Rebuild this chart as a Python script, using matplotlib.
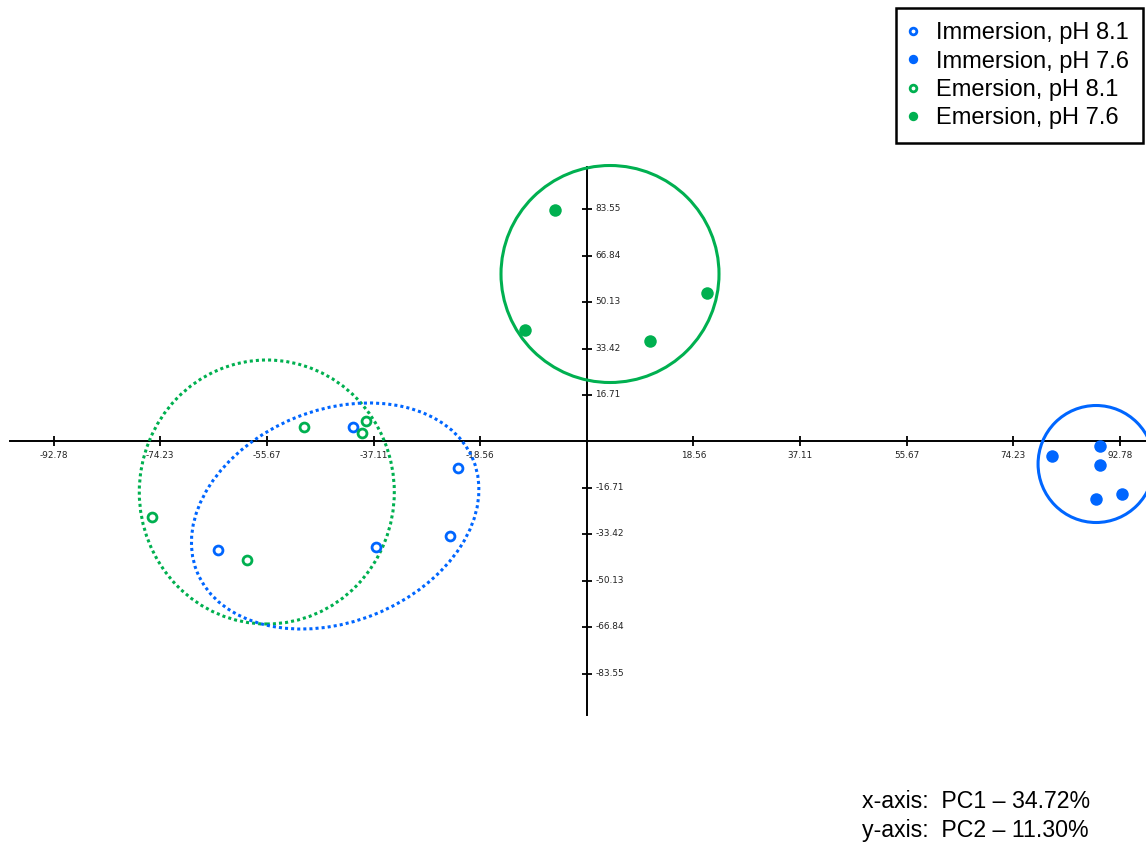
import matplotlib
matplotlib.use("Agg")
import matplotlib.pyplot as plt
from matplotlib.patches import Ellipse
from matplotlib.transforms import ScaledTranslation

plt.rcParams['font.family'] = ['Liberation Sans', 'DejaVu Sans']

BLUE = '#0066ff'
GREEN = '#00b050'

# PCA scores per treatment group (PC1, PC2)
imm81_x = [-40.7, -22.4, -23.8, -36.7, -64.1]
imm81_y = [5.1, -9.6, -33.9, -38.1, -39.0]
imm76_x = [81.0, 89.3, 89.3, 88.6, 93.2]
imm76_y = [-5.1, -1.6, -8.6, -20.7, -19.0]
em81_x = [-49.2, -38.4, -39.1, -75.6, -59.2]
em81_y = [5.3, 7.5, 3.1, -27.1, -42.5]
em76_x = [-5.6, -10.8, 11.0, 21.0]
em76_y = [83.2, 40.2, 36.3, 53.5]

labels = ['Immersion, pH 8.1', 'Immersion, pH 7.6',
          'Emersion, pH 8.1', 'Emersion, pH 7.6']

x_ticks = [-92.78, -74.23, -55.67, -37.11, -18.56,
           18.56, 37.11, 55.67, 74.23, 92.78]
y_ticks = [83.55, 66.84, 50.13, 33.42, 16.71,
           -16.71, -33.42, -50.13, -66.84, -83.55]

fig = plt.figure(figsize=(11.46, 8.42), dpi=100)
ax = fig.add_axes([0, 0, 1, 1])
ax.set_xlim(-102.12, 97.32)
ax.set_ylim(-144.12, 158.87)
ax.axis('off')

# cross-shaped axes through the origin
ax.plot([-100.4, 100.4], [0, 0], color='black', lw=1.4, zorder=2)
ax.plot([0, 0], [-98.4, 98.8], color='black', lw=1.4, zorder=2)
ax.plot(x_ticks, [0] * len(x_ticks), ls='none', marker='|', ms=6.5,
        mew=1.3, color='black', zorder=2)
ax.plot([0] * len(y_ticks), y_ticks, ls='none', marker='_', ms=6.5,
        mew=1.3, color='black', zorder=2)
for v in x_ticks:
    ax.annotate(f'{v:.2f}', (v, 0), xytext=(0, -9.8), textcoords='offset points',
                ha='center', va='center', fontsize=6.4, color='#222222',
                family='DejaVu Sans')
for v in y_ticks:
    ax.annotate(f'{v:.2f}', (0, v), xytext=(6.0, 0.3), textcoords='offset points',
                ha='left', va='center', fontsize=6.4, color='#222222',
                family='DejaVu Sans')

# group ellipses: centre in score units, size in inches, rotation in degrees
groups_ellipses = [
    ((4.04, 60.27), 2.18, 2.17, 0, GREEN, '-'),
    ((88.63, -8.10), 1.16, 1.17, 0, BLUE, '-'),
    ((-55.69, -18.17), 2.55, 2.64, 0, GREEN, (0, (1, 1))),
    ((-43.79, -26.81), 2.98, 2.12, 22, BLUE, (0, (1, 1))),
]
for (cx, cy), w, h, ang, col, ls in groups_ellipses:
    tr = fig.dpi_scale_trans + ScaledTranslation(cx, cy, ax.transData)
    e = Ellipse((0, 0), w, h, angle=ang, transform=tr, fill=False,
                edgecolor=col, lw=2.2, linestyle=ls, zorder=3)
    ax.add_patch(e)

open_kw = dict(ls='none', marker='o', ms=6.4, mew=2.0, markerfacecolor='white', zorder=4)
fill_kw = dict(ls='none', marker='o', ms=9.0, mew=0, zorder=4)
h1, = ax.plot(imm81_x, imm81_y, markeredgecolor=BLUE, label=labels[0], **open_kw)
h2, = ax.plot(imm76_x, imm76_y, color=BLUE, label=labels[1], **fill_kw)
h3, = ax.plot(em81_x, em81_y, markeredgecolor=GREEN, label=labels[2], **open_kw)
h4, = ax.plot(em76_x, em76_y, color=GREEN, label=labels[3], **fill_kw)

leg = fig.legend(handles=[h1, h2, h3, h4], loc='upper right',
                 bbox_to_anchor=(1143 / 1146, 1 - 8 / 842), borderaxespad=0,
                 fontsize=17, frameon=True, fancybox=False, edgecolor='black',
                 framealpha=1, handlelength=0.25, handletextpad=0.85,
                 labelspacing=0.27, borderpad=0.6, markerscale=0.75)
leg.get_frame().set_linewidth(1.8)

fig.text(862 / 1146, 1 - 801.7 / 842, 'x-axis:  PC1 \u2013 34.72%', fontsize=16.7,
         ha='left', va='center')
fig.text(862 / 1146, 1 - 831 / 842, 'y-axis:  PC2 \u2013 11.30%', fontsize=16.7,
         ha='left', va='center')

fig.savefig('out.png', dpi=100)
